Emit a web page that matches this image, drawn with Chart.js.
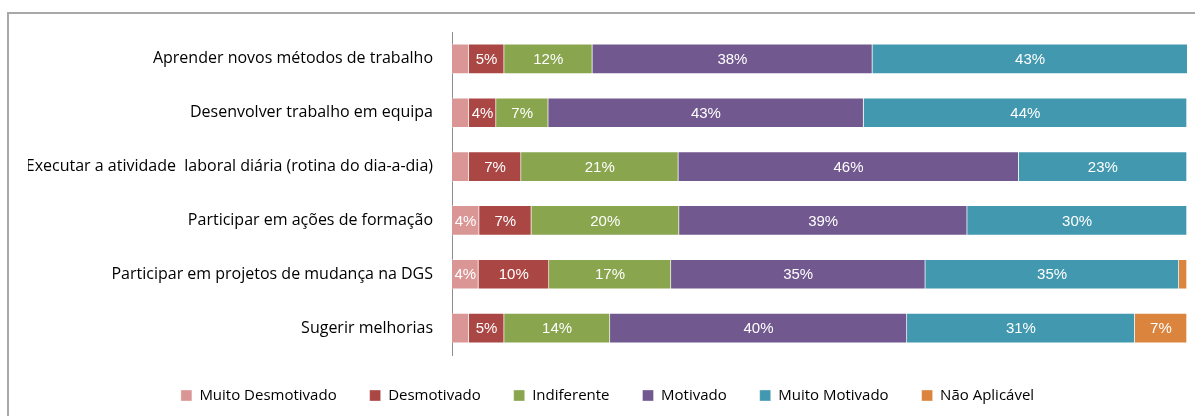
<!DOCTYPE html>
<html>
<head>
<meta charset="utf-8">
<script src="https://cdn.jsdelivr.net/npm/chart.js@4.4.1/dist/chart.umd.min.js"></script>
<style>
  body { margin: 0; background: #fff; overflow: hidden; }
  #frame { position: absolute; left: 7px; top: 12px; width: 1200px; height: 420px;
           border-left: 2px solid #a8a8a8; border-top: 2px solid #a8a8a8; }
  #wrap { position: absolute; left: 0; top: 0; width: 1195px; height: 416px; }
</style>
</head>
<body>
<div id="frame"></div>
<div id="wrap"><canvas id="myChart"></canvas></div>
<script>
const categories = [
  "Aprender novos métodos de trabalho",
  "Desenvolver trabalho em equipa",
  "Executar a atividade  laboral diária (rotina do dia-a-dia)",
  "Participar em ações de formação",
  "Participar em projetos de mudança na DGS",
  "Sugerir melhorias"
];
const muitoDesmotivado = [2.3, 2.3, 2.3, 3.7, 3.6, 2.3];
const desmotivado = [4.8, 3.7, 7.1, 7.1, 9.6, 4.8];
const indiferente = [12.0, 7.1, 21.4, 20.1, 16.6, 14.4];
const motivado = [38.1, 42.9, 46.3, 39.2, 34.6, 40.4];
const muitoMotivado = [42.9, 44.0, 22.9, 29.9, 34.5, 31.0];
const naoAplicavel = [0, 0, 0, 0, 1.1, 7.1];

const series = [
  { label: "Muito Desmotivado", data: muitoDesmotivado, color: "#D99694" },
  { label: "Desmotivado", data: desmotivado, color: "#AA4643" },
  { label: "Indiferente", data: indiferente, color: "#89A54E" },
  { label: "Motivado", data: motivado, color: "#71588F" },
  { label: "Muito Motivado", data: muitoMotivado, color: "#4198AF" },
  { label: "Não Aplicável", data: naoAplicavel, color: "#DB843D" }
];

const FONT = "'Open Sans', sans-serif";
const LABEL_FONT = "'Liberation Sans', Arial, sans-serif";

// white percentage labels in the middle of each segment (tiny ones skipped)
const segmentLabels = {
  id: "segmentLabels",
  afterDatasetsDraw(chart) {
    const ctx = chart.ctx;
    ctx.save();
    ctx.font = "15px " + LABEL_FONT;
    ctx.fillStyle = "#fff";
    ctx.textAlign = "center";
    ctx.textBaseline = "middle";
    chart.data.datasets.forEach((ds, i) => {
      chart.getDatasetMeta(i).data.forEach((bar, j) => {
        const v = ds.data[j];
        if (v < 3) return;
        const { x, y, base } = bar.getProps(["x", "y", "base"], true);
        ctx.fillText(Math.round(v) + "%", (x + base) / 2, y + 1);
      });
    });
    ctx.restore();
  }
};

const ctx = document.getElementById("myChart").getContext("2d");
const myChart = new Chart(ctx, {
  type: "bar",
  data: {
    labels: categories,
    datasets: series.map(s => ({
      label: s.label,
      data: s.data,
      backgroundColor: s.color,
      borderColor: "rgba(255,255,255,0.35)",
      borderWidth: 1,
      barThickness: 30
    }))
  },
  options: {
    indexAxis: "y",
    responsive: true,
    maintainAspectRatio: false,
    animation: false,
    layout: { padding: { left: 28, right: 8, top: 32, bottom: 3 } },
    scales: {
      x: { stacked: true, min: 0, max: 100, display: false },
      y: {
        stacked: true,
        grid: { display: false, drawTicks: false },
        border: { display: true, color: "#8c8c8c", width: 1 },
        ticks: { color: "#000", padding: 19, font: { family: FONT, size: 16 } },
        afterFit(scale) { scale.width = 424; }
      }
    },
    plugins: {
      legend: {
        position: "bottom",
        labels: {
          boxWidth: 11,
          boxHeight: 11,
          padding: 33,
          color: "#000",
          font: { family: FONT, size: 15 }
        }
      },
      tooltip: { enabled: false }
    }
  },
  plugins: [segmentLabels]
});
</script>
</body>
</html>
